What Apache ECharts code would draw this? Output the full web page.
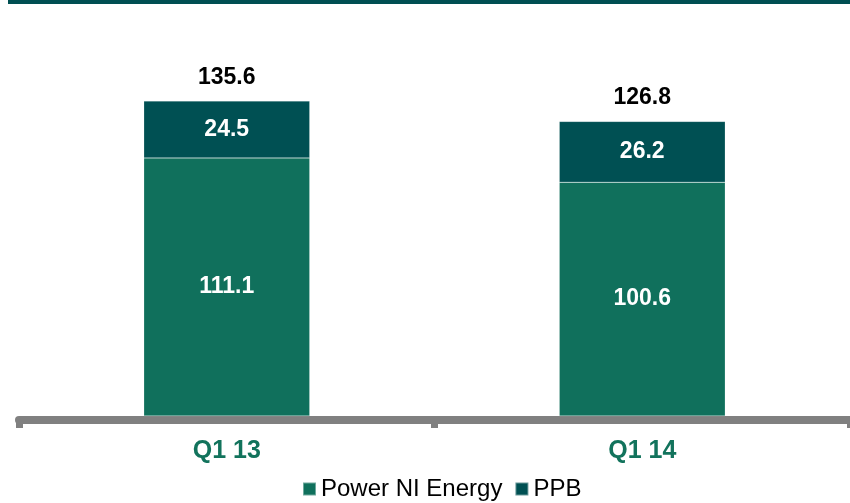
<!DOCTYPE html>
<html>
<head>
<meta charset="utf-8">
<script src="https://cdn.jsdelivr.net/npm/echarts@6/dist/echarts.min.js"></script>
<style>
  html, body { margin: 0; padding: 0; background: #fff; }
  #chart { width: 850px; height: 503px; }
</style>
</head>
<body>
<div id="chart"></div>
<script>
// values
var categories = ['Q1 13', 'Q1 14'];
var powerNI = [111.1, 100.6];
var ppb = [24.5, 26.2];
var totals = [135.6, 126.8];

var font = 'Liberation Sans, Arial, sans-serif';
var myChart = echarts.init(document.getElementById('chart'));

var option = {
    animation: false,
    graphic: [
        { type: 'rect', left: 8, top: 0, shape: { width: 842, height: 4 }, style: { fill: '#004f52' } }
    ],
    legend: {
        data: ['Power NI Energy', 'PPB'],
        left: 302,
        top: 477,
        padding: 0,
        icon: 'rect',
        itemWidth: 13,
        itemHeight: 13,
        itemGap: 12,
        textStyle: { fontFamily: font, fontSize: 24, color: '#000', padding: [0, 0, 0, 0] }
    },
    grid: { left: 19, right: 0, top: 67.5, bottom: 87 },
    xAxis: {
        type: 'category',
        data: categories,
        offset: 4,
        axisLine: { onZero: false, lineStyle: { color: '#808080', width: 8 } },
        axisTick: { show: true, length: 8, lineStyle: { color: '#808080', width: 7 } },
        axisLabel: { fontFamily: font, fontSize: 25, fontWeight: 'bold', color: '#12735c', margin: 19 }
    },
    yAxis: { type: 'value', min: 0, max: 150, show: false, splitLine: { show: false } },
    series: [
        {
            name: 'Power NI Energy',
            type: 'bar',
            stack: 'a',
            barWidth: 166,
            data: powerNI,
            itemStyle: { color: '#10705c', borderColor: 'rgba(255,255,255,0.4)', borderWidth: 0.5 },
            label: { show: true, position: 'inside', fontFamily: font, fontSize: 23, fontWeight: 'bold', color: '#fff' }
        },
        {
            name: 'PPB',
            type: 'bar',
            stack: 'a',
            data: ppb,
            itemStyle: { color: '#005053', borderColor: 'rgba(255,255,255,0.4)', borderWidth: 0.5 },
            label: { show: true, position: 'inside', fontFamily: font, fontSize: 23, fontWeight: 'bold', color: '#fff' }
        },
        {
            name: 'Total',
            type: 'bar',
            stack: 'a',
            data: [0, 0],
            itemStyle: { color: 'transparent' },
            label: {
                show: true,
                position: 'top',
                distance: 12,
                fontFamily: font, fontSize: 23, fontWeight: 'bold', color: '#000',
                formatter: function (p) { return totals[p.dataIndex].toFixed(1); }
            }
        }
    ]
};
myChart.setOption(option);
</script>
</body>
</html>
